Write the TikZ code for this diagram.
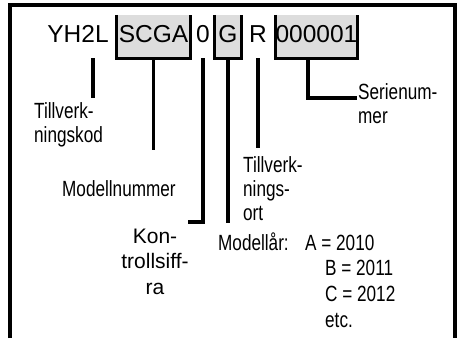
\documentclass[tikz,border=0pt]{standalone}
\usepackage{fontspec}
\setmainfont{Liberation Sans}
\newfontfamily\narrowfont[FakeStretch=0.78]{Liberation Sans}
\definecolor{boxgray}{RGB}{221,221,221}
\begin{document}
\begin{tikzpicture}[
    x=1pt, y=-1pt,
    frame/.style={line width=4pt},
    leader/.style={line width=3.2pt},
    codecell/.style={
        anchor=base, inner xsep=0pt, inner ysep=0pt,
        text height=27pt, text depth=16pt,
        font=\fontsize{24.5}{28}\selectfont
    },
    codebox/.style={codecell, fill=boxgray},
    lbl/.style={font=\narrowfont\fontsize{22}{24}\selectfont,
        anchor=base west, align=left, inner sep=0pt},
    widelbl/.style={font=\fontsize{21}{25.5}\selectfont,
        anchor=base, align=center, inner sep=0pt}
]
\useasboundingbox (0,0) rectangle (461,338);

% Rahmen
\draw[frame] (10,338) -- (10,5) -- (455,5) -- (455,338);

% =========================================================
% Kod: YH2L SCGA 0 G R 000001
% =========================================================
\node[codecell] (yh) at (78,42) {YH2L};
\node[codebox, minimum width=73pt] (scga) at (153.5,42) {SCGA};
\node[codecell] (noll) at (203,42) {0};
\node[codebox, minimum width=26pt] (gg) at (228,42) {G};
\node[codecell] (rr) at (258,42) {R};
\node[codebox, minimum width=81pt] (serie) at (316.5,42) {000001};

% Klammern
\foreach \b in {scga, gg, serie} {
    \draw[leader] (\b.north west) -- (\b.south west)
        -- (\b.south east) -- (\b.north east);
}

% =========================================================
% Beteckningar (base = sista raden)
% =========================================================
\node[lbl] (tillv) at (34,142) {Tillverk-\\ningskod};
\node[lbl] (modnr) at (62,196) {Modellnummer};
\node[widelbl] (kontr) at (155,294) {Kon-\\trollsiff-\\ra};
\node[lbl] (ort) at (243,220) {Tillverk-\\nings-\\ort};
\node[lbl] (sernr) at (358,123) {Serienum-\\mer};

\node[lbl] (modar) at (218,250) {Modell\aa r:};
\node[lbl] (yeara) at (305,250) {A = 2010};
\node[lbl, font=\narrowfont\fontsize{22}{25.7}\selectfont] (yearb)
    at (325,327) {B = 2011\\C = 2012\\etc.};

% Linjer
\coordinate (yhend) at (93,98);
\coordinate (scgaend) at (153.5,150);
\coordinate (nollend) at (188,222);
\coordinate (ggend) at (228,223);
\coordinate (rrend) at (258,148);
\coordinate (serieend) at (357,98);

\draw[leader] (yh.south -| yhend) -- (yhend);
\draw[leader] (scga.south) -- (scgaend);
\draw[leader] (noll.south) |- (nollend);
\draw[leader] (gg.south) -- (ggend);
\draw[leader] (rr.south) -- (rrend);
\draw[leader] ([xshift=-8.5pt]serie.south) |- (serieend);

\end{tikzpicture}
\end{document}
